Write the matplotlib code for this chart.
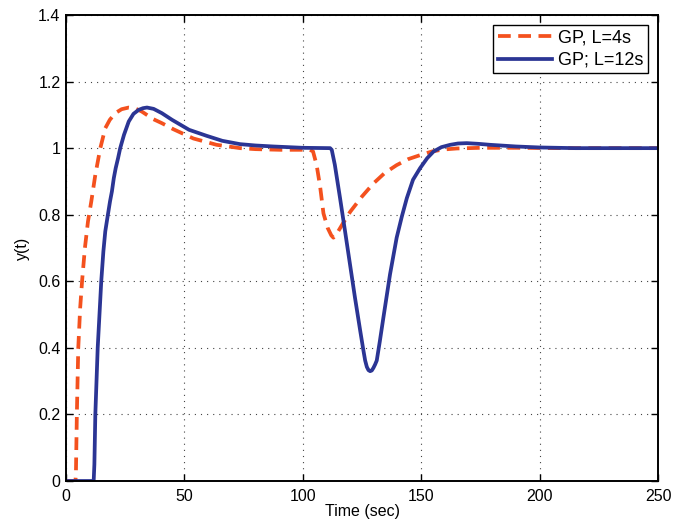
import matplotlib.pyplot as plt
import numpy as np

plt.rcParams['font.family'] = ['Liberation Sans', 'DejaVu Sans']

# GP, L=4s (dashed orange)
t_short = [0, 4.0, 4.2, 4.6, 5.2, 6.0, 6.8, 8.0, 9.3, 10.7, 12.4, 14.5, 16.6, 18.5,
           20.8, 23.5, 26.5, 29.0, 32.0, 36.9, 40.5, 45.3, 53.8, 63.6, 73.5, 80.0,
           90.4, 98.8, 103.0, 104.3, 105.8, 107.3, 108.7, 110.5, 112.0, 112.9,
           114.5, 117.0, 120.0, 125.0, 129.8, 134.5, 139.6, 144.5, 149.5, 154.5,
           159.4, 165.0, 175.0, 190.0, 210.0, 230.0, 250.0]
y_short = [0, 0, 0.02, 0.2, 0.4, 0.52, 0.6, 0.7, 0.78, 0.84, 0.92, 1.0, 1.06, 1.085,
           1.105, 1.117, 1.122, 1.12, 1.11, 1.087, 1.075, 1.057, 1.029, 1.01, 1.0, 0.997,
           0.995, 0.995, 0.995, 0.99, 0.95, 0.884, 0.804, 0.76, 0.738, 0.731,
           0.745, 0.775, 0.809, 0.855, 0.894, 0.925, 0.949, 0.967, 0.979, 0.99,
           0.996, 0.999, 1.001, 1.001, 1.0, 1.0, 1.0]

# GP; L=12s (solid blue)
t_long = [0, 11.7, 12.0, 12.4, 13.4, 14.9, 15.8, 16.6, 17.7, 18.6, 19.4, 20.2, 21.0,
          22.0, 22.9, 24.5, 26.5, 28.5, 30.7, 32.5, 34.2, 37.0, 40.5, 44.8, 52.0,
          59.4, 66.0, 73.5, 80.0, 87.5, 100.0, 111.5, 112.2, 113.5, 115.7, 117.8,
          119.9, 122.0, 124.2, 125.5, 126.3, 127.0, 127.7, 128.4, 129.1, 129.8,
          130.5, 131.2, 132.5, 134.0, 136.8, 139.6, 141.8, 143.9, 146.5, 149.5,
          152.5, 155.2, 158.5, 162.2, 165.5, 169.2, 174.0, 179.0, 190.0, 200.0,
          215.0, 250.0]
y_long = [0, 0, 0.05, 0.2, 0.4, 0.6, 0.69, 0.75, 0.8, 0.84, 0.87, 0.91, 0.94,
          0.97, 1.0, 1.04, 1.08, 1.103, 1.115, 1.12, 1.122, 1.118, 1.105, 1.085,
          1.055, 1.037, 1.022, 1.012, 1.008, 1.005, 1.001, 1.0, 0.995, 0.95, 0.85,
          0.751, 0.651, 0.551, 0.452, 0.395, 0.362, 0.343, 0.333, 0.33, 0.332,
          0.34, 0.35, 0.362, 0.42, 0.491, 0.621, 0.731, 0.795, 0.85, 0.905, 0.94,
          0.97, 0.99, 1.003, 1.01, 1.014, 1.015, 1.013, 1.01, 1.005, 1.002, 1.0,
          1.0]

yticks = [0, 0.2, 0.4, 0.6, 0.8, 1.0, 1.2, 1.4]
ytick_labels = ['0', '0.2', '0.4', '0.6', '0.8', '1', '1.2', '1.4']
xticks = [0, 50, 100, 150, 200, 250]
xtick_labels = ['0', '50', '100', '150', '200', '250']

fig = plt.figure(figsize=(6.73, 5.28), dpi=100)
ax = fig.add_axes([0.098, 0.089, 0.88, 0.8826])

ax.plot(t_short, y_short, color='#F4511E', linestyle=(0, (3.4, 2.0)), linewidth=2.7,
        label='GP, L=4s')
ax.plot(t_long, y_long, color='#2B3594', linestyle='-', linewidth=2.7,
        label='GP; L=12s', solid_joinstyle='round')

ax.set_xlim(0, 250)
ax.set_ylim(0, 1.4)
ax.set_xticks(xticks)
ax.set_xticklabels(xtick_labels)
ax.set_yticks(yticks)
ax.set_yticklabels(ytick_labels)

ax.grid(which='major', color='#444444', linestyle=(0, (1, 4.5)), linewidth=0.8)
ax.tick_params(direction='in', length=5, labelsize=11.5, top=True, right=True, width=1)
ax.tick_params(axis='x', pad=6)
ax.tick_params(axis='y', pad=4)
for s in ax.spines.values():
    s.set_linewidth(1.4)

ax.set_xlabel('Time (sec)', fontsize=11.5, labelpad=0)
ax.set_ylabel('y(t)', fontsize=11.5, labelpad=6)

leg = ax.legend(loc='upper right', fontsize=13, fancybox=False, framealpha=1,
                edgecolor='black', borderaxespad=0.55, handlelength=3.0,
                borderpad=0.25, labelspacing=0.3, handletextpad=0.35)
leg.get_frame().set_linewidth(1.0)

fig.savefig('out.png', dpi=100)
